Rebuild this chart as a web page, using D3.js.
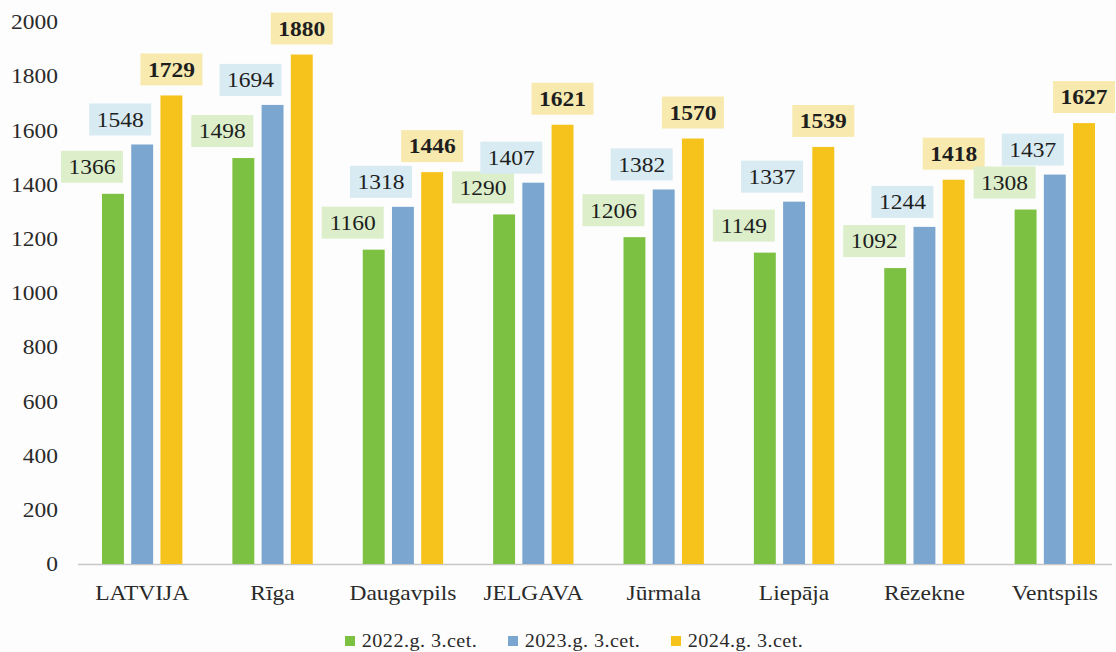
<!DOCTYPE html>
<html>
<head>
<meta charset="utf-8">
<script src="https://cdn.jsdelivr.net/npm/d3@7"></script>
<style>
  body { margin: 0; background: #fdfdfd; }
  text { font-family: "Liberation Serif", "Times New Roman", "DejaVu Serif", serif; }
</style>
</head>
<body>
<div id="chart"></div>
<script>
const categories = ["LATVIJA", "Rīga", "Daugavpils", "JELGAVA", "Jūrmala", "Liepāja", "Rēzekne", "Ventspils"];
const seriesNames = ["2022.g. 3.cet.", "2023.g. 3.cet.", "2024.g. 3.cet."];
const v2022 = [1366, 1498, 1160, 1290, 1206, 1149, 1092, 1308];
const v2023 = [1548, 1694, 1318, 1407, 1382, 1337, 1244, 1437];
const v2024 = [1729, 1880, 1446, 1621, 1570, 1539, 1418, 1627];
const yTicks = [0, 200, 400, 600, 800, 1000, 1200, 1400, 1600, 1800, 2000];

const values = [v2022, v2023, v2024];
const colors = ["#7dc142", "#7aa6d0", "#f6c31d"];
const labelBg = ["#dcefca", "#d8eaf2", "#f8eaaf"];
const labelDx = [-21, -22, 0];
const labelDy = [27, 25, 26];
// the source text is a little wider than a plain serif face
const stretch = "scale(1.12,1)";

const width = 1116, height = 652;

const svg = d3.select("#chart").append("svg")
    .attr("width", width)
    .attr("height", height);

const x0 = d3.scaleBand()
    .domain(categories)
    .range([77, 1120]);

const x1 = d3.scaleBand()
    .domain(d3.range(seriesNames.length))
    .range([25, x0.step() - 25])
    .paddingInner(0.25);

const y = d3.scaleLinear()
    .domain([0, 2000])
    .range([564, 22]);

// y axis labels
const yAxis = svg.append("g")
    .attr("transform", "translate(58,0)")
    .call(d3.axisLeft(y).tickValues(yTicks).tickSize(0).tickPadding(0).tickFormat(d3.format("d")));
yAxis.attr("font-family", null);
yAxis.select(".domain").remove();
yAxis.selectAll("text")
    .attr("font-size", 21)
    .attr("transform", stretch)
    .attr("fill", "#2a2a2a");

// baseline
svg.append("line")
    .attr("x1", 78).attr("x2", 1112)
    .attr("y1", y(0) + 0.5).attr("y2", y(0) + 0.5)
    .attr("stroke", "#c8c8c8")
    .attr("stroke-width", 1.5);

// x axis labels
const xAxis = svg.append("g")
    .attr("transform", "translate(0," + (y(0) + 20) + ")")
    .call(d3.axisBottom(x0).tickSize(0).tickPadding(0));
xAxis.attr("font-family", null);
xAxis.select(".domain").remove();
xAxis.selectAll("text")
    .attr("font-size", 21)
    .attr("dy", "0.75em")
    .attr("transform", stretch)
    .attr("fill", "#2a2a2a");

const groups = svg.selectAll("g.cat")
    .data(categories)
  .enter().append("g")
    .attr("class", "cat")
    .attr("transform", d => "translate(" + x0(d) + ",0)");

// bars
groups.selectAll("rect.bar")
    .data((d, i) => values.map((s, k) => ({ k: k, v: s[i] })))
  .enter().append("rect")
    .attr("class", "bar")
    .attr("x", d => x1(d.k))
    .attr("y", d => y(d.v))
    .attr("width", x1.bandwidth())
    .attr("height", d => y(0) - y(d.v))
    .attr("fill", d => colors[d.k]);

// value labels
const lab = groups.selectAll("g.lab")
    .data((d, i) => values.map((s, k) => ({ k: k, v: s[i] })))
  .enter().append("g")
    .attr("class", "lab")
    .attr("transform", d => "translate(" + (x1(d.k) + x1.bandwidth() / 2 + labelDx[d.k]) + "," + (y(d.v) - labelDy[d.k]) + ")");

lab.append("rect")
    .attr("x", -31).attr("y", -16)
    .attr("width", 62).attr("height", 32)
    .attr("fill", d => labelBg[d.k]);

lab.append("text")
    .attr("text-anchor", "middle")
    .attr("dy", "0.35em")
    .attr("font-size", 21)
    .attr("transform", stretch)
    .attr("font-weight", d => d.k === 2 ? "bold" : "normal")
    .attr("fill", "#1e1e1e")
    .text(d => d.v);

// legend
const legend = svg.append("g")
    .attr("transform", "translate(345,641)");

const item = legend.selectAll("g")
    .data(seriesNames)
  .enter().append("g")
    .attr("transform", (d, i) => "translate(" + (i * 163) + ",0)");

item.append("rect")
    .attr("x", 0).attr("y", -5)
    .attr("width", 10).attr("height", 10)
    .attr("fill", (d, i) => colors[i]);

item.append("text")
    .attr("x", 15)
    .attr("dy", "0.35em")
    .attr("font-size", 18)
    .attr("letter-spacing", 0.4)
    .attr("transform", "scale(1.12,1)")
    .attr("fill", "#2a2a2a")
    .text(d => d);
</script>
</body>
</html>
